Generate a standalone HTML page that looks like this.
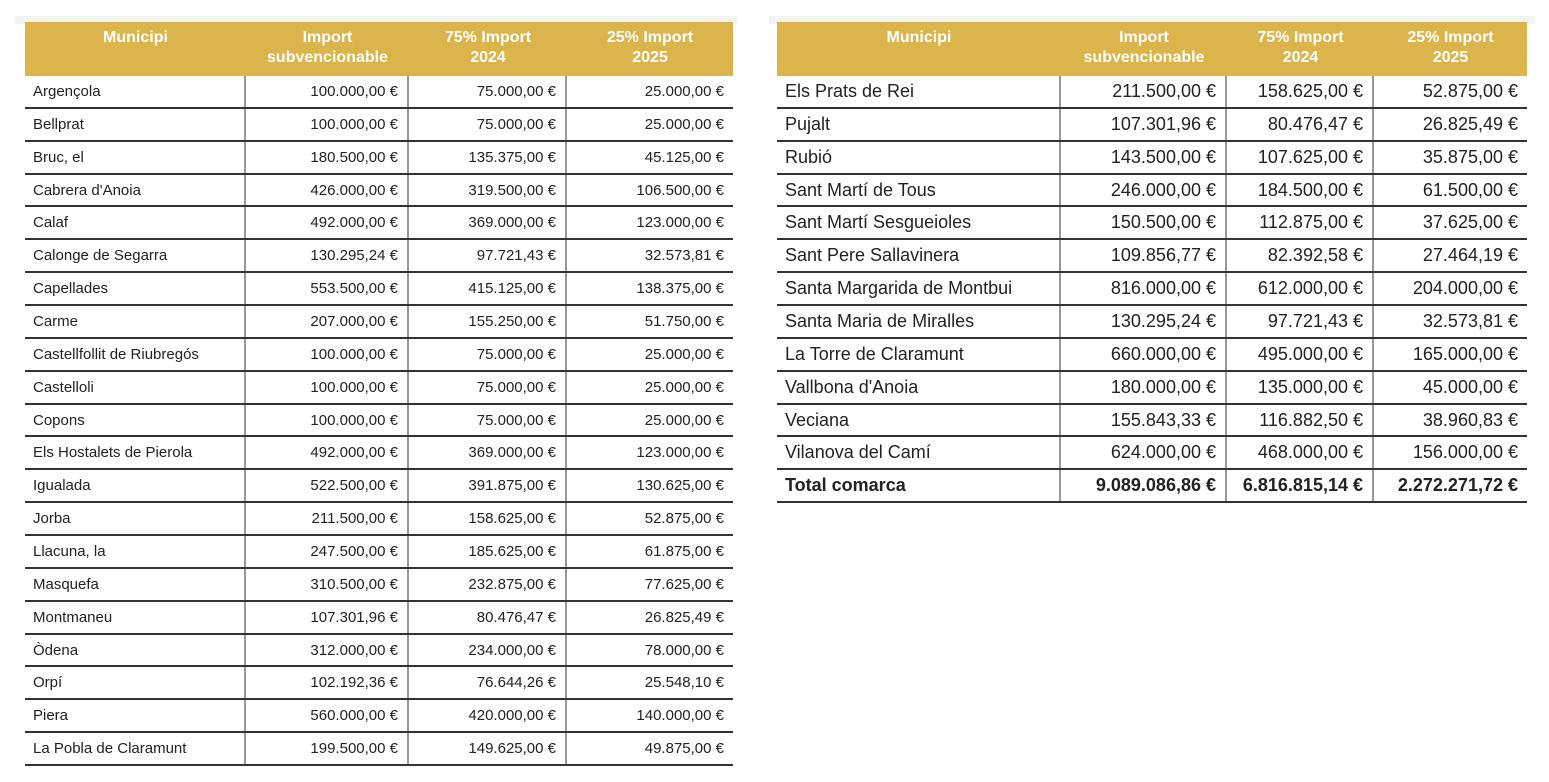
<!DOCTYPE html>
<html><head><meta charset="utf-8"><style>
body{margin:0;width:1549px;height:782px;background:#fff;position:relative;overflow:hidden;font-family:"Liberation Sans",sans-serif;color:#222}
.t{position:absolute;top:22px}
.bg{position:absolute;background:#f3f3f1}
.h{display:flex;height:54px;background:#dbb54c;color:#fff;font-weight:bold;font-size:16px;line-height:20px;text-align:center}
.h div{padding-top:6px;box-sizing:border-box}
.r{display:flex;height:32.86px;box-sizing:border-box;border-bottom:2px solid #333}
.r div{box-sizing:border-box;border-right:2px solid #999;display:flex;align-items:center;justify-content:flex-end;padding-right:9px;white-space:nowrap}
.r div:first-child{justify-content:flex-start;padding-left:8px}
.r div:last-child{border-right:none}
.L{left:25px;width:708px;font-size:15px}
.R{left:777px;width:750px;font-size:18px}
.b div{font-weight:bold}
</style></head><body>
<div class="bg" style="left:15px;top:16px;width:722px;height:8px"></div>
<div class="bg" style="left:769px;top:16px;width:766px;height:8px"></div>
<div class="t L">
<div class="h"><div style="width:221px">Municipi</div><div style="width:163px">Import<br>subvencionable</div><div style="width:158px">75% Import<br>2024</div><div style="width:166px">25% Import<br>2025</div></div>
<div id="lb"></div>
</div>
<div class="t R">
<div class="h"><div style="width:284px">Municipi</div><div style="width:166px">Import<br>subvencionable</div><div style="width:147px">75% Import<br>2024</div><div style="width:153px">25% Import<br>2025</div></div>
<div id="rb"></div>
</div>
<script>
var L=[["Argençola","100.000,00","75.000,00","25.000,00"],["Bellprat","100.000,00","75.000,00","25.000,00"],["Bruc, el","180.500,00","135.375,00","45.125,00"],["Cabrera d'Anoia","426.000,00","319.500,00","106.500,00"],["Calaf","492.000,00","369.000,00","123.000,00"],["Calonge de Segarra","130.295,24","97.721,43","32.573,81"],["Capellades","553.500,00","415.125,00","138.375,00"],["Carme","207.000,00","155.250,00","51.750,00"],["Castellfollit de Riubregós","100.000,00","75.000,00","25.000,00"],["Castelloli","100.000,00","75.000,00","25.000,00"],["Copons","100.000,00","75.000,00","25.000,00"],["Els Hostalets de Pierola","492.000,00","369.000,00","123.000,00"],["Igualada","522.500,00","391.875,00","130.625,00"],["Jorba","211.500,00","158.625,00","52.875,00"],["Llacuna, la","247.500,00","185.625,00","61.875,00"],["Masquefa","310.500,00","232.875,00","77.625,00"],["Montmaneu","107.301,96","80.476,47","26.825,49"],["Òdena","312.000,00","234.000,00","78.000,00"],["Orpí","102.192,36","76.644,26","25.548,10"],["Piera","560.000,00","420.000,00","140.000,00"],["La Pobla de Claramunt","199.500,00","149.625,00","49.875,00"]];
var R=[["Els Prats de Rei","211.500,00","158.625,00","52.875,00"],["Pujalt","107.301,96","80.476,47","26.825,49"],["Rubió","143.500,00","107.625,00","35.875,00"],["Sant Martí de Tous","246.000,00","184.500,00","61.500,00"],["Sant Martí Sesgueioles","150.500,00","112.875,00","37.625,00"],["Sant Pere Sallavinera","109.856,77","82.392,58","27.464,19"],["Santa Margarida de Montbui","816.000,00","612.000,00","204.000,00"],["Santa Maria de Miralles","130.295,24","97.721,43","32.573,81"],["La Torre de Claramunt","660.000,00","495.000,00","165.000,00"],["Vallbona d'Anoia","180.000,00","135.000,00","45.000,00"],["Veciana","155.843,33","116.882,50","38.960,83"],["Vilanova del Camí","624.000,00","468.000,00","156.000,00"],["Total comarca","9.089.086,86","6.816.815,14","2.272.271,72"]];
function f(d,w,id){var h="";d.forEach(function(r,i){h+='<div class="r'+(r[0]=="Total comarca"?" b":"")+'">';r.forEach(function(c,j){h+='<div style="width:'+w[j]+'px">'+c+(j?" €":"")+'</div>'});h+='</div>'});document.getElementById(id).innerHTML=h}
f(L,[221,163,158,166],"lb");f(R,[284,166,147,153],"rb");
</script>
</body></html>
